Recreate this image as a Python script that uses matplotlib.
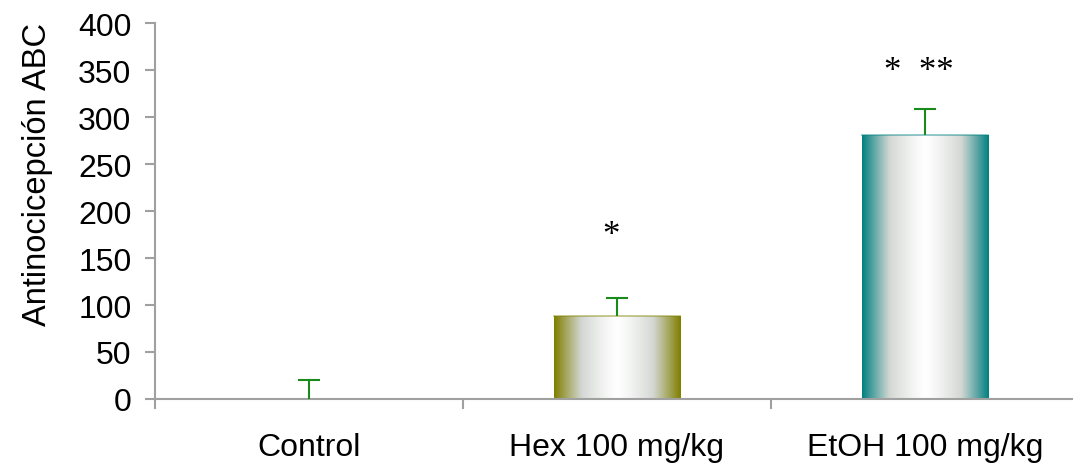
import numpy as np
import matplotlib.pyplot as plt
from matplotlib.colors import LinearSegmentedColormap

plt.rcParams['font.family'] = ['Liberation Sans', 'DejaVu Sans']

groups = ["Control", "Hex 100 mg/kg", "EtOH 100 mg/kg"]
means = [0, 88, 281]
sem = [20, 19, 28]
bar_colors = [None, "#7f7f00", "#008080"]
marks = ["", "*", "*  **"]
mark_y = [0, 174, 349]

fig = plt.figure(figsize=(10.73, 4.64), dpi=100)
ax = fig.add_axes([0.1445, 0.138, 0.861, 0.810])

x = np.arange(len(groups)) + 0.5
width = 0.41
bars = ax.bar(x, means, width, color="none", edgecolor="none", zorder=2)

# horizontal gradient: dark edge -> white middle -> dark edge
grad = np.abs(np.linspace(-1, 1, 256)) ** 1.2
grad = grad.reshape(1, -1)
for rect, col, m in zip(bars, bar_colors, means):
    if col is None or m <= 0:
        continue
    cmap = LinearSegmentedColormap.from_list("g", ["#ffffff", "#d4d8d4", col])
    x0, w, h = rect.get_x(), rect.get_width(), rect.get_height()
    im = ax.imshow(grad, cmap=cmap, aspect="auto", extent=(x0, x0 + w, 0, h),
                   interpolation="bicubic", zorder=2)
    im.set_clip_path(rect)
    ax.plot([x0, x0 + w], [h, h], color=col, lw=1.2, alpha=0.5, zorder=3)

# upper error bars only, cap on top
cap = 0.037
ax.vlines(x, means, np.add(means, sem), color="#1a8a1a", lw=1.5, zorder=4)
ax.hlines(np.add(means, sem), x - cap, x + cap, color="#1a8a1a", lw=1.5, zorder=4)

for xi, txt, yi in zip(x, marks, mark_y):
    if txt:
        ax.text(xi - 0.02, yi, txt, ha="center", va="center", fontsize=25,
                family="Liberation Serif")

ax.set_xlim(0, 3)
ax.set_ylim(0, 400)
ax.set_yticks(range(0, 401, 50))
ax.set_xticks([0, 1, 2, 3])
ax.set_xticklabels([])
ax.set_xticks(x, minor=True)
ax.set_xticklabels(groups, minor=True, fontsize=23)
ax.tick_params(axis="x", which="minor", length=0, pad=24)
ax.tick_params(axis="x", which="major", length=7, color="#a0a0a0", width=1.5)
ax.tick_params(axis="y", length=7, color="#a0a0a0", width=1.5, labelsize=23, pad=10)

for s in ["top", "right"]:
    ax.spines[s].set_visible(False)
for s in ["left", "bottom"]:
    ax.spines[s].set_color("#a0a0a0")
    ax.spines[s].set_linewidth(1.5)

ax.set_ylabel("Antinocicepción ABC", fontsize=23.5)
ax.yaxis.set_label_coords(-0.111, 0.6)

fig.savefig("out.png", dpi=100)
